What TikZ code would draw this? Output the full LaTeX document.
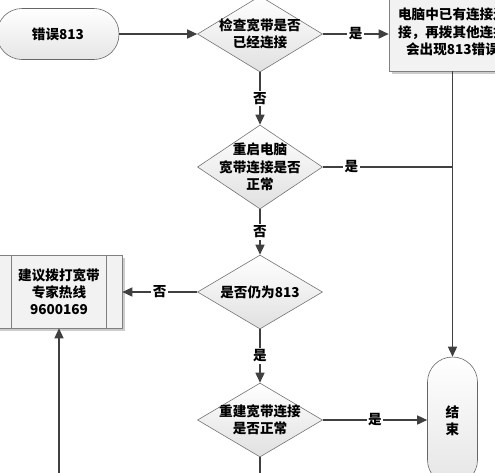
\documentclass[tikz,border=0pt]{standalone}
\usepackage{fontspec}
\setmainfont{Noto Sans CJK SC}
\usepackage{tikz}
\usetikzlibrary{arrows.meta, shapes.geometric, shadows}

\tikzset{
  flowline/.style={line width=1.5pt, draw=black!75},
  flowarrow/.style={flowline, -{Triangle[length=10pt,width=9pt]}},
  decision/.style={diamond, draw=black!55, line width=0.6pt, aspect=1.6,
    inner sep=-9pt, minimum width=125pt, minimum height=76pt,
    top color=white, bottom color=black!12, align=center},
  terminal/.style={rectangle, rounded corners=25pt, draw=black!60, line width=0.6pt,
    top color=white, bottom color=black!10, align=center},
  process/.style={rectangle, draw=black!50, line width=0.6pt, fill=black!5,
    drop shadow={shadow xshift=2.5pt, shadow yshift=-2.5pt, fill=black!40},
    align=center},
  yesno/.style={fill=white, inner sep=1.5pt},
}

\begin{document}
\begin{tikzpicture}[x=1pt, y=-1pt, font=\fontsize{13.6}{17.3}\selectfont\bfseries]

    % =================================================================
    % 1. KHUNG HÌNH
    % =================================================================
    \useasboundingbox (0,0) rectangle (495,472);
    \clip (0,0) rectangle (495,472);

    % =================================================================
    % 2. CÁC NÚT
    % =================================================================
    \node[terminal, minimum width=122pt, minimum height=51pt] (err) at (58,34) {错误813};
    \node[decision] (chk) at (260,34) {检查宽带是否\\已经连接};
    \node[process, minimum width=127pt, minimum height=78pt] (msg) at (452.5,32)
        {电脑中已有连接连\\接，再拨其他连接\\会出现813错误};
    \node[decision, minimum height=84pt] (reboot) at (260,167) {重启电脑\\宽带连接是否\\正常};
    \node[decision, minimum height=74pt] (still) at (260,292) {是否仍为813};
    \node[process, minimum width=126pt, minimum height=73pt] (hotline) at (59,291.5)
        {建议拨打宽带\\专家热线\\9600169};
    % Hai vạch dọc bên trong khung
    \draw[draw=black!50, line width=0.6pt]
        ([xshift=16pt]hotline.north west) -- ([xshift=16pt]hotline.south west)
        ([xshift=-16pt]hotline.north east) -- ([xshift=-16pt]hotline.south east);
    \node[decision, minimum height=74pt] (rebuild) at (260,420) {重建宽带连接\\是否正常};
    \node[terminal, minimum width=50pt, minimum height=128pt] (done) at (452.5,421) {结\\束};

    % =================================================================
    % 3. CÁC ĐƯỜNG NỐI
    % =================================================================
    \draw[flowarrow] (err.east) -- (chk.west);
    \draw[flowarrow] (chk.east) -- node[yesno] {是} (chk.east -| msg.west);
    \draw[flowarrow] (chk) -- node[yesno] {否} (reboot);
    \draw[flowline] (reboot.east) -- node[yesno, pos=0.22] {是} (reboot.east -| msg.south);
    \draw[flowarrow] (msg.south) -- (done.north);
    \draw[flowarrow] (reboot) -- node[yesno] {否} (still);
    \draw[flowarrow] (still.west) -- node[yesno] {否} (still.west -| hotline.east);
    \draw[flowarrow] (still) -- node[yesno] {是} (rebuild);
    \draw[flowarrow] (rebuild.east) -- node[yesno] {是} (rebuild.east -| done.west);

    % Đường vòng phía dưới về khung tư vấn
    \coordinate (loop) at (260,495);
    \draw[flowarrow] (rebuild.south) -- (loop) -| (hotline.south);

\end{tikzpicture}
\end{document}
